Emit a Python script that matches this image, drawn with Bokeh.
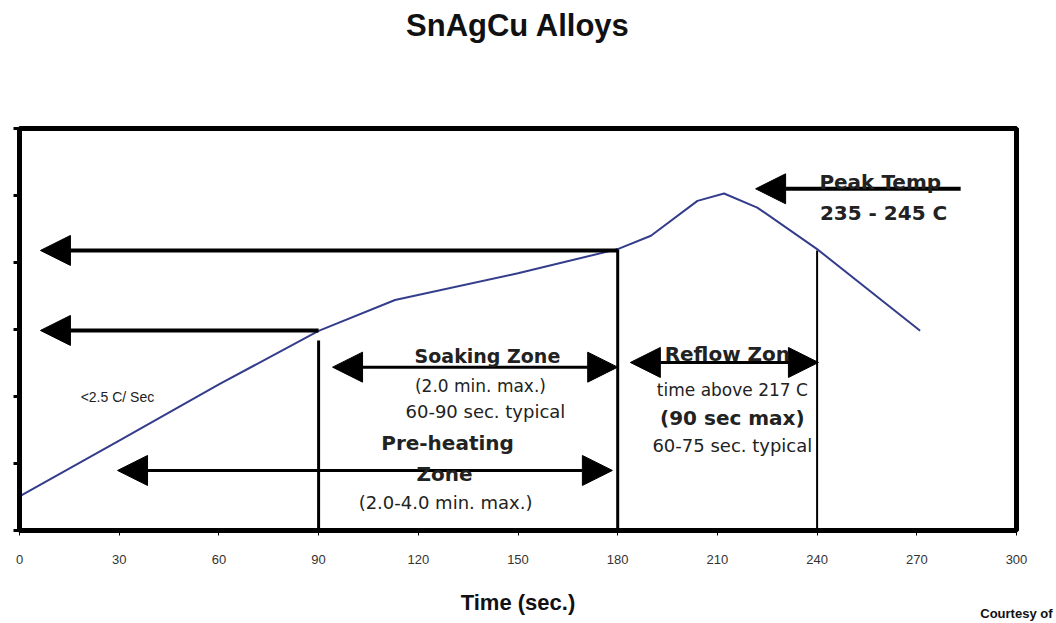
from bokeh.plotting import figure
from bokeh.models import Label, Arrow, NormalHead, FixedTicker, Title, CustomJSTickFormatter
from bokeh.embed import file_html
from bokeh.resources import INLINE

# ---- data ----
time_s = [0, 30, 60, 90, 113, 150, 180, 190, 204, 212, 222, 240, 271]
temp_c = [25.4, 67, 109, 149, 172, 192, 210, 220, 246, 251.5, 241, 210, 149]
x_ticks = [0, 30, 60, 90, 120, 150, 180, 210, 240, 270, 300]
y_ticks = [0, 50, 100, 150, 200, 250, 300]
zone_times = [90, 180, 240]
zone_tops = [141.8, 210.4, 209]

FONT = "Liberation Sans"
WIDE = "DejaVu Sans"

p = figure(frame_width=997, frame_height=402, min_border_left=19, min_border_right=40,
           min_border_top=128, min_border_bottom=93,
           x_range=(0, 300), y_range=(0, 300),
           output_backend="svg", toolbar_location=None)
p.background_fill_color = "white"
p.border_fill_color = "white"
p.outline_line_color = "black"
p.outline_line_width = 5
p.grid.visible = False

# spacer between the frame and the title
p.add_layout(Title(text=" ", text_font_size="10px", standoff=68), "above")

p.title.text = "SnAgCu Alloys"
p.title.align = "center"
p.title.text_font = FONT
p.title.text_font_size = "31px"
p.title.text_font_style = "bold"
p.title.text_color = "#111111"
p.title.standoff = 10

p.xaxis.ticker = FixedTicker(ticks=x_ticks)
p.yaxis.ticker = FixedTicker(ticks=y_ticks)
for ax in (p.xaxis[0], p.yaxis[0]):
    ax.axis_line_width = 5
    ax.axis_line_color = "black"
    ax.major_tick_line_width = 3
    ax.major_tick_line_color = "black"
    ax.major_tick_in = 0
    ax.minor_tick_line_color = None
p.yaxis.major_tick_out = 6
p.yaxis.formatter = CustomJSTickFormatter(code="return '';")
p.yaxis.major_label_standoff = 0
p.xaxis.major_tick_out = 5
p.xaxis.major_tick_line_width = 1
p.xaxis.major_label_text_font = FONT
p.xaxis.major_label_text_font_size = "13px"
p.xaxis.major_label_text_color = "#333333"
p.xaxis.major_label_standoff = 19
p.xaxis.axis_label = "Time (sec.)"
p.xaxis.axis_label_text_font = FONT
p.xaxis.axis_label_text_font_size = "22px"
p.xaxis.axis_label_text_font_style = "bold"
p.xaxis.axis_label_text_color = "#111111"
p.xaxis.axis_label_standoff = 23

p.add_layout(Title(text="Courtesy of", align="right", vertical_align="top", text_font=FONT,
                   text_font_size="13px", text_font_style="bold", text_color="#111111",
                   standoff=-24, offset=-36), "below")

# zone boundary lines
for t, top in zip(zone_times, zone_tops):
    p.segment(x0=t, y0=-5, x1=t, y1=top, line_color="black",
              line_width=2 if t == 240 else 3)

# temperature curve
p.line(time_s, temp_c, line_color="#343d8c", line_width=2)


def arrow(x0, y0, x1, y1, lw, both=False):
    head = NormalHead(size=30, fill_color="black", line_color="black", line_width=1)
    start = NormalHead(size=30, fill_color="black", line_color="black", line_width=1) if both else None
    p.add_layout(Arrow(end=head, start=start, x_start=x0, y_start=y0, x_end=x1, y_end=y1,
                       line_color="black", line_width=lw))


arrow(180, 209, 6.3, 209, 4)
arrow(90, 149.3, 6.3, 149.3, 4)
arrow(94.2, 121.9, 180, 121.9, 3, both=True)
arrow(29.5, 44.8, 178.4, 44.8, 3, both=True)
arrow(183.8, 125.4, 240.4, 125.4, 3, both=True)
arrow(283.2, 255, 221.5, 255, 4)


def label(x, y, text, size, bold=False, font=WIDE, align="center", color="#222222"):
    p.add_layout(Label(x=x, y=y, text=text, text_font=font, text_font_size=size,
                       text_font_style="bold" if bold else "normal",
                       text_align=align, text_baseline="middle", text_color=color))


label(18.4, 100, "<2.5 C/ Sec", "14px", font=FONT, align="left")
label(140.8, 130, "Soaking Zone", "19px", bold=True)
label(138.7, 108, "(2.0 min. max.)", "17px")
label(140.2, 88.8, "60-90 sec. typical", "18px")
label(128.8, 65, "Pre-heating", "20px", bold=True)
label(127.9, 42.5, "Zone", "20px", bold=True)
label(128.2, 21, "(2.0-4.0 min. max.)", "18px")
label(213, 132, "Reflow Zon", "20px", bold=True)
label(214.5, 105, "time above 217 C", "17px")
label(214.5, 84.3, "(90 sec max)", "20px", bold=True)
label(214.5, 63.4, "60-75 sec. typical", "18px")
label(259, 260.4, "Peak Temp", "20px", bold=True)
label(260, 237, "235 - 245 C", "20px", bold=True)

open("out.html", "w").write(file_html(p, INLINE))
